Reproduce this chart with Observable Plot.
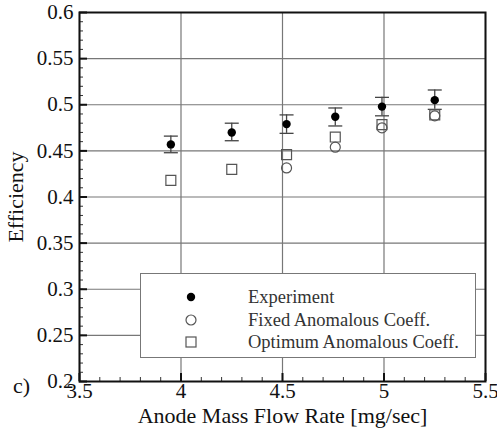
<!DOCTYPE html>
<html><head><meta charset="utf-8">
<script src="https://cdn.jsdelivr.net/npm/d3@7"></script>
<script src="https://cdn.jsdelivr.net/npm/@observablehq/plot@0.6"></script>
<style>
body{margin:0;background:#fff;}
#wrap{position:relative;width:497px;height:428px;font-family:'Liberation Serif','Times New Roman',serif;color:#222;}
#legend{position:absolute;left:140px;top:273px;width:336px;height:85px;border:1px solid #777;background:#fff;box-sizing:border-box;}
.row{position:absolute;left:0;height:22px;line-height:22px;font-size:18.5px;color:#333;}
.row svg{position:absolute;left:42px;top:3px;}
.row span{position:absolute;left:107px;white-space:nowrap;}
#tag{position:absolute;left:13px;top:374px;font-size:22px;line-height:24px;color:#111;}
svg text{font-family:'Liberation Serif','Times New Roman',serif !important;}
</style></head>
<body><div id="wrap"></div>
<script>
// ---- data ----
const massFlow = [3.95, 4.25, 4.52, 4.76, 4.99, 5.25];
const experiment = [0.457, 0.470, 0.479, 0.487, 0.498, 0.505];
const expErrLow = [0.448, 0.461, 0.469, 0.477, 0.488, 0.495];
const expErrHigh = [0.466, 0.480, 0.489, 0.4965, 0.508, 0.516];
const fixedFlow = [4.52, 4.76, 4.99, 5.25];
const fixedCoeff = [0.4315, 0.454, 0.475, 0.488];
const optimumCoeff = [0.418, 0.430, 0.446, 0.465, 0.4785, 0.489];
const xTicks = [3.5, 4, 4.5, 5, 5.5];
const xTickLabels = ["3.5", "4", "4.5", "5", "5.5"];
const yTicks = [0.2, 0.25, 0.3, 0.35, 0.4, 0.45, 0.5, 0.55, 0.6];
const yTickLabels = ["0.2", "0.25", "0.3", "0.35", "0.4", "0.45", "0.5", "0.55", "0.6"];
const seriesNames = ["Experiment", "Fixed Anomalous Coeff.", "Optimum Anomalous Coeff."];

const xMinor = d3.range(35, 56).map(d => d / 10);
const yMinor = d3.range(20, 61).map(d => d / 100);

const W = 497, H = 428, mL = 79, mR = 12, mT = 12, mB = 47;
const pw = W - mL - mR, ph = H - mT - mB;
const FONT = "'Liberation Serif','Times New Roman',serif";

const expRows = massFlow.map((x, i) => ({x, y: experiment[i], lo: expErrLow[i], hi: expErrHigh[i]}));
const fixRows = fixedFlow.map((x, i) => ({x, y: fixedCoeff[i]}));
const optRows = massFlow.map((x, i) => ({x, y: optimumCoeff[i]}));

const cap = {draw(ctx) { ctx.moveTo(-7, 0); ctx.lineTo(7, 0); }};

const chart = Plot.plot({
  width: W, height: H,
  marginLeft: mL, marginRight: mR, marginTop: mT, marginBottom: mB,
  style: {fontFamily: FONT, fontSize: "21px", color: "#111", background: "#fff"},
  x: {domain: [3.5, 5.5]},
  y: {domain: [0.2, 0.6]},
  marks: [
    Plot.gridX(xTicks, {stroke: "#777", strokeOpacity: 1, strokeWidth: 1.2}),
    Plot.gridY(yTicks, {stroke: "#777", strokeOpacity: 1, strokeWidth: 1.2}),
    Plot.tickY(yMinor, {y: d => d, insetRight: pw - 4, stroke: "#333"}),
    Plot.tickY(yTicks, {y: d => d, insetRight: pw - 8, stroke: "#111", strokeWidth: 2}),
    Plot.tickX(xMinor, {x: d => d, insetTop: ph - 4, stroke: "#333"}),
    Plot.tickX(xTicks, {x: d => d, insetTop: ph - 8, stroke: "#111", strokeWidth: 2}),
    Plot.ruleX(expRows, {x: "x", y1: "lo", y2: "hi", stroke: "#444", strokeWidth: 1.3}),
    Plot.dot(expRows, {x: "x", y: "lo", symbol: cap, stroke: "#444", strokeWidth: 1.3, r: 5}),
    Plot.dot(expRows, {x: "x", y: "hi", symbol: cap, stroke: "#444", strokeWidth: 1.3, r: 5}),
    Plot.dot(optRows, {x: "x", y: "y", symbol: "square", r: 5.6, stroke: "#555", strokeWidth: 1.2, fill: "none"}),
    Plot.dot(fixRows, {x: "x", y: "y", symbol: "circle", r: 5, stroke: "#555", strokeWidth: 1.2, fill: "none"}),
    Plot.dot(expRows, {x: "x", y: "y", symbol: "circle", r: 4.2, fill: "#000", stroke: "none"}),
    Plot.axisX(xTicks, {tickSize: 0, tickPadding: 2, fontSize: 21, label: null, tickFormat: (d, i) => xTickLabels[i]}),
    Plot.axisX({tickSize: 0, ticks: [], fontSize: 22,
      label: "Anode Mass Flow Rate [mg/sec]", labelAnchor: "center", labelOffset: 41, labelArrow: "none"}),
    Plot.axisY(yTicks, {tickSize: 0, tickPadding: 6, fontSize: 21, label: null, tickFormat: (d, i) => yTickLabels[i]}),
    Plot.axisY({tickSize: 0, ticks: [], fontSize: 22,
      label: "Efficiency", labelAnchor: "center", labelOffset: 72, labelArrow: "none"}),
    Plot.frame({stroke: "#111", strokeWidth: 2})
  ]
});
const wrap = document.getElementById("wrap");
wrap.appendChild(chart);

// legend
const legend = document.createElement("div");
legend.id = "legend";
const syms = [
  '<svg width="16" height="16"><circle cx="8" cy="8" r="4.2" fill="#000"/></svg>',
  '<svg width="16" height="16"><circle cx="8" cy="8" r="5" fill="none" stroke="#555" stroke-width="1.2"/></svg>',
  '<svg width="16" height="16"><rect x="3" y="3" width="10" height="10" fill="none" stroke="#555" stroke-width="1.2"/></svg>'
];
seriesNames.forEach((name, i) => {
  const row = document.createElement("div");
  row.className = "row";
  row.style.top = (12 + i * 22.5) + "px";
  row.style.width = "100%";
  row.innerHTML = syms[i] + "<span>" + name + "</span>";
  legend.appendChild(row);
});
wrap.appendChild(legend);
const tag = document.createElement("div");
tag.id = "tag"; tag.textContent = "c)";
wrap.appendChild(tag);
</script>
</body></html>
